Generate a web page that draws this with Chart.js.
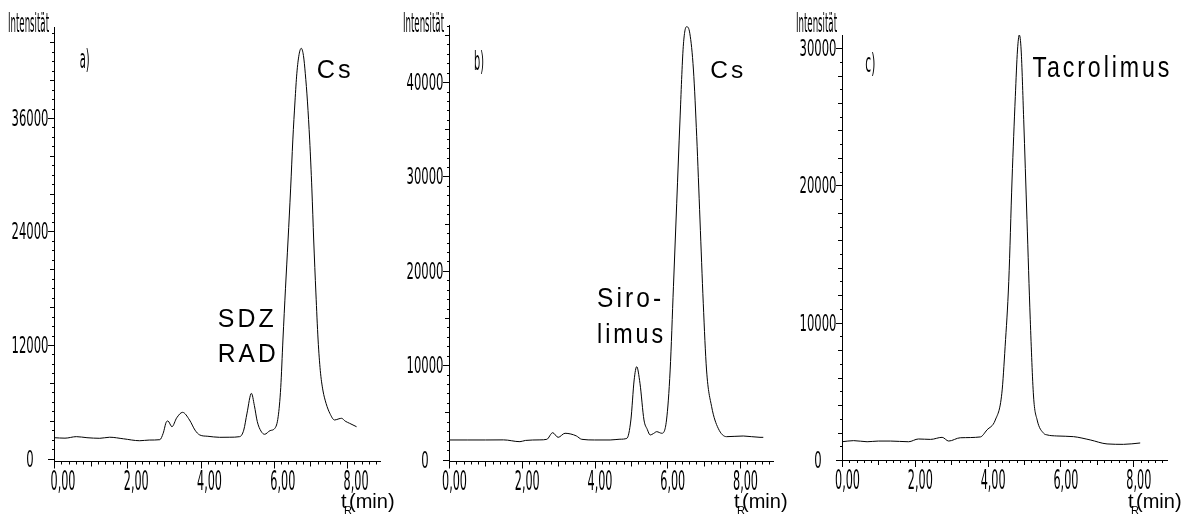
<!DOCTYPE html>
<html><head><meta charset="utf-8">
<script src="https://cdn.jsdelivr.net/npm/chart.js@4.4.1/dist/chart.umd.min.js"></script>
<style>
html,body{margin:0;padding:0;background:#fff;overflow:hidden}
#wrap{position:relative;width:1189px;height:517px;background:#fff}
canvas{position:absolute;left:0;top:0}
</style></head>
<body><div id="wrap">
<canvas id="ca" width="1189" height="517"></canvas>
<canvas id="cb" width="1189" height="517"></canvas>
<canvas id="cc" width="1189" height="517"></canvas>
</div>
<script>
// ---------- data ----------
const timeA = [0.00,0.30,0.61,0.90,1.25,1.52,1.90,2.34,2.60,2.89,2.98,3.07,3.11,3.22,3.35,3.51,3.70,3.85,3.98,4.20,4.52,4.80,5.07,5.18,5.27,5.39,5.47,5.55,5.65,5.75,5.90,6.03,6.12,6.19,6.25,6.32,6.39,6.46,6.52,6.58,6.63,6.69,6.75,6.81,6.86,6.92,6.98,7.04,7.09,7.15,7.21,7.27,7.34,7.43,7.53,7.66,7.78,7.85,7.95,8.07,8.26];
const intensityA = [2200,2150,2310,2200,2135,2250,2080,1880,1950,1990,2660,3890,3965,3360,4300,4880,4070,3000,2485,2350,2240,2250,2310,3000,4800,6890,5600,3900,2900,2560,2950,3190,4420,7500,12530,18000,23100,28500,33680,37800,40730,42700,43370,42600,40730,37700,33680,28500,23100,17500,12530,9300,7240,5800,4780,4070,4200,4250,3950,3720,3360];

const timeB = [0.00,0.50,1.00,1.50,1.95,2.10,2.50,2.69,2.85,3.00,3.19,3.35,3.50,3.65,4.00,4.43,4.70,4.89,5.00,5.09,5.16,5.25,5.36,5.45,5.53,5.62,5.71,5.85,5.98,6.08,6.17,6.26,6.35,6.44,6.53,6.62,6.72,6.81,6.90,6.99,7.08,7.22,7.40,7.63,8.09,8.55,8.64];
const intensityB = [2070,2070,2070,2080,1890,2020,2080,2140,2840,2350,2780,2700,2500,2140,2070,2070,2150,2245,4190,8430,9840,8080,4190,3200,2600,2750,2950,2780,4190,9490,18320,27160,35990,43760,45880,45180,41290,34220,25390,16560,9490,5600,3310,2420,2490,2350,2350];

const timeC = [0.00,0.32,0.69,1.00,1.33,1.83,2.10,2.43,2.75,2.93,3.25,3.80,3.98,4.21,4.39,4.48,4.58,4.67,4.76,4.82,4.87,4.92,4.99,5.08,5.17,5.26,5.36,5.54,5.63,5.90,6.36,6.82,7.28,7.73,8.19];
const intensityC = [1330,1410,1330,1380,1380,1330,1530,1500,1650,1380,1620,1680,2185,2910,4860,8250,13000,20390,26460,29860,30950,29860,24810,17530,10250,4660,2910,1940,1830,1750,1700,1460,1170,1140,1240];

const xTickValues = [0,2,4,6,8];
const xTickLabels = ['0,00','2,00','4,00','6,00','8,00'];
const yTickValuesA = [0,12000,24000,36000];
const yTickValuesB = [0,10000,20000,30000,40000];
const yTickValuesC = [0,10000,20000,30000];
const yAxisTitle = 'Intensität';
const panelTags = ['a)','b)','c)'];

// ---------- styling / layout ----------
const SANS = "'Liberation Sans', Arial, sans-serif";
const NARROW = "'Liberation Sans Narrow','Arial Narrow','DejaVu Sans Condensed',sans-serif";

const panels = [
  { id:'ca', t:timeA, v:intensityA, yTicks:yTickValuesA, yMid:4000, yMinor:1000,
    pad:{left:54, top:27, right:809, bottom:55.5}, yMin:-317, yMax:45620, xMax:8.90, xLabelShift:9,
    tag:{text:panelTags[0], t:0.70, v:41290},
    notes:[{text:'Cs', t:7.17, v:40230, w:34, cap:18},
           {text:'SDZ', t:4.47, v:13900, w:56, cap:18.5},
           {text:'RAD', t:4.47, v:10200, w:58, cap:18.5}] },
  { id:'cb', t:timeB, v:intensityB, yTicks:yTickValuesB, yMid:5000, yMinor:1000,
    pad:{left:449, top:25, right:416, bottom:55.5}, yMin:-212, yMax:46060, xMax:8.907, xLabelShift:5.5,
    tag:{text:panelTags[1], t:0.69, v:41290},
    notes:[{text:'Cs', t:7.18, v:40440, w:33, cap:17},
           {text:'Siro-', t:4.07, v:16170, w:64, cap:19},
           {text:'limus', t:4.07, v:12350, w:66, cap:19}] },
  { id:'cc', t:timeC, v:intensityC, yTicks:yTickValuesC, yMid:2000, yMinor:1000,
    pad:{left:842, top:35, right:22, bottom:57}, yMin:0, yMax:30950, xMax:8.926, xLabelShift:5.5,
    tag:{text:panelTags[2], t:0.64, v:28260},
    notes:[{text:'Tacrolimus', t:5.23, v:27860, w:137, cap:21}] }
];

function drawText(ctx, s, x, y, o) {
  ctx.save();
  const size = o.size || 20;
  const sp = o.spacing || 0;
  ctx.font = size + 'px ' + (o.family || SANS);
  if ('letterSpacing' in ctx) ctx.letterSpacing = sp + 'px';
  ctx.textAlign = 'left';
  ctx.textBaseline = 'alphabetic';
  const w = ctx.measureText(s).width - sp;
  const capH = ctx.measureText('H').actualBoundingBoxAscent || size * 0.716;
  const sx = o.w ? o.w / w : 1;
  const sy = o.cap ? o.cap / capH : sx;
  const tw = w * sx;
  let x0 = x;
  if (o.align === 'center') x0 = x - tw / 2;
  else if (o.align === 'right') x0 = x - tw;
  ctx.translate(x0, y);
  ctx.scale(sx, sy);
  ctx.fillStyle = '#000';
  ctx.fillText(s, 0, 0);
  ctx.restore();
}

function decor(p) {
  return {
    id: 'decor_' + p.id,
    afterDraw(chart) {
      const {ctx, chartArea: a, scales: {x, y}} = chart;
      // tick marks
      ctx.save();
      ctx.strokeStyle = '#000'; ctx.lineWidth = 1; ctx.beginPath();
      const nX = Math.floor(x.max / 0.2 + 1e-6);
      for (let k = 0; k <= nX; k++) {
        const px = Math.round(x.getPixelForValue(k * 0.2)) + 0.5;
        const len = k % 10 === 0 ? 7 : (k % 5 === 0 ? 5 : 3);
        ctx.moveTo(px, a.bottom); ctx.lineTo(px, a.bottom + len);
      }
      const yMajor = p.yTicks[1] - p.yTicks[0];
      const nY = Math.floor(y.max / p.yMinor);
      for (let k = 0; k <= nY; k++) {
        const v = k * p.yMinor;
        const py = Math.round(y.getPixelForValue(v)) + 0.5;
        const len = v % yMajor === 0 ? 6 : (v % p.yMid === 0 ? 4 : 2);
        ctx.moveTo(a.left, py); ctx.lineTo(a.left - len, py);
      }
      ctx.stroke();
      ctx.restore();
      // x tick labels
      xTickValues.forEach((v, i) => {
        const px = x.getPixelForValue(v) + p.xLabelShift;
        drawText(ctx, xTickLabels[i], px, a.bottom + 28.5, {family: NARROW, w: 25, cap: 19, align: 'center'});
      });
      // y tick labels
      p.yTicks.forEach(v => {
        const s = String(v);
        const py = y.getPixelForValue(v);
        drawText(ctx, s, a.left - 24, py + 8, {family: NARROW, w: 7.4 * s.length, cap: 16.5, align: 'center'});
      });
      // y axis title
      drawText(ctx, yAxisTitle, a.left - 5, 32, {family: NARROW, w: 41, cap: 19, align: 'right'});
      // x axis title  t_R(min)
      const x0 = a.right - 39;
      drawText(ctx, 't', x0, 508, {size: 20});
      drawText(ctx, 'R', x0 + 3, 514, {size: 11});
      drawText(ctx, '(min)', x0 + 8, 508, {size: 20});
      // panel tag
      drawText(ctx, p.tag.text, x.getPixelForValue(p.tag.t), y.getPixelForValue(p.tag.v), {family: NARROW, w: 10, cap: 19});
      // peak annotations
      p.notes.forEach(n => {
        drawText(ctx, n.text, x.getPixelForValue(n.t), y.getPixelForValue(n.v), {size: 24, spacing: 3, w: n.w, cap: n.cap});
      });
    }
  };
}

function makeChart(p) {
  const pts = p.t.map((t, i) => ({x: t, y: p.v[i]}));
  return new Chart(document.getElementById(p.id), {
    type: 'line',
    data: {datasets: [{data: pts, borderColor: '#000', borderWidth: 1, pointRadius: 0,
      fill: false, cubicInterpolationMode: 'monotone'}]},
    options: {
      responsive: false, animation: false, devicePixelRatio: 1, events: [],
      layout: {padding: p.pad},
      plugins: {legend: {display: false}, tooltip: {enabled: false}, title: {display: false}},
      scales: {
        x: {type: 'linear', min: 0, max: p.xMax,
            grid: {display: false, drawTicks: false},
            border: {display: true, color: '#000', width: 1},
            ticks: {display: false}},
        y: {type: 'linear', min: p.yMin, max: p.yMax,
            grid: {display: false, drawTicks: false},
            border: {display: true, color: '#000', width: 1},
            ticks: {display: false}}
      }
    },
    plugins: [decor(p)]
  });
}

panels.forEach(makeChart);
</script>
</body></html>
